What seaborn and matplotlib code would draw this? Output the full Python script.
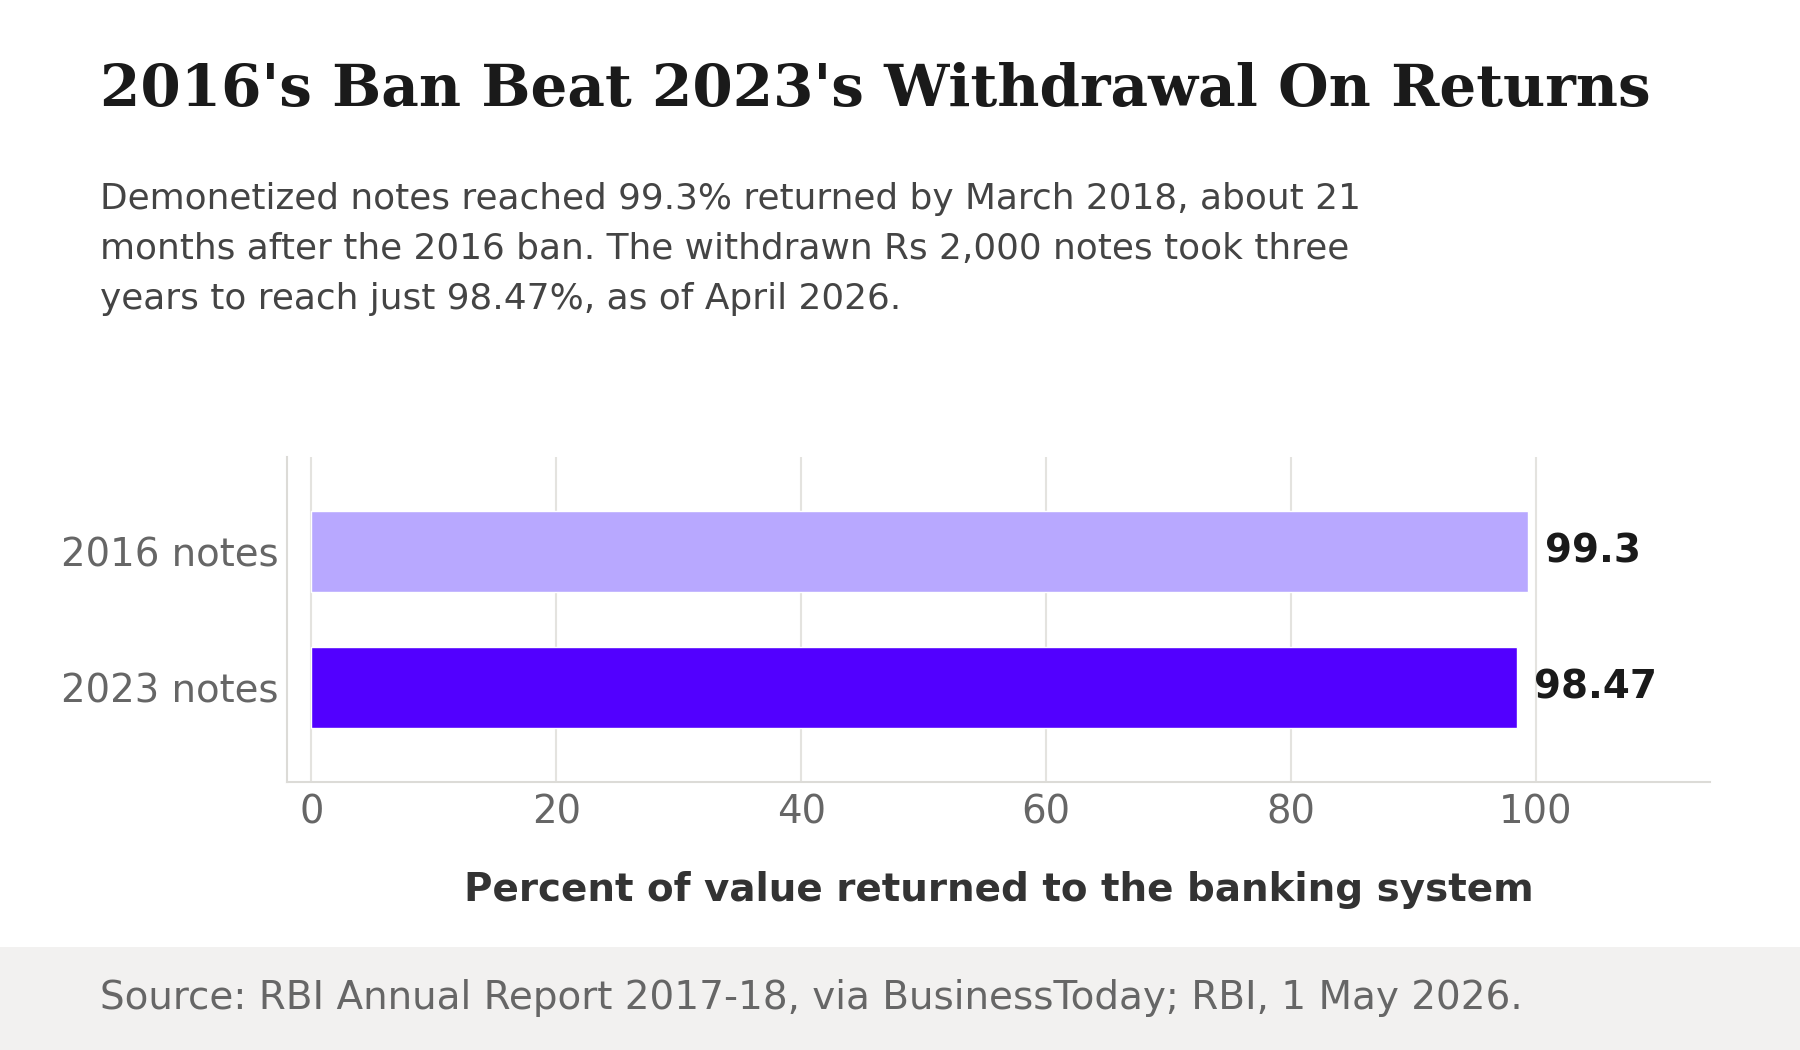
import matplotlib
matplotlib.use("Agg")
import matplotlib.pyplot as plt
import seaborn as sns
import pandas as pd

categories = ["2016 notes", "2023 notes"]
returned_pct = [99.3, 98.47]
value_labels = ["99.3", "98.47"]
bar_colors = ["#b8a8ff", "#5200ff"]
x_ticks = [0, 20, 40, 60, 80, 100]

title = "2016's Ban Beat 2023's Withdrawal On Returns"
subtitle = ("Demonetized notes reached 99.3% returned by March 2018, about 21\n"
            "months after the 2016 ban. The withdrawn Rs 2,000 notes took three\n"
            "years to reach just 98.47%, as of April 2026.")
x_label = "Percent of value returned to the banking system"
source = "Source: RBI Annual Report 2017-18, via BusinessToday; RBI, 1 May 2026."

sns.set_theme(style="white")
plt.rcParams["font.family"] = ["DejaVu Sans"]

W, H = 1800, 1050
fig = plt.figure(figsize=(18, 10.5), dpi=100)
fig.patch.set_facecolor("white")

# footer band
fig.patches.append(plt.Rectangle((0, 0), 1, (H - 947) / H, transform=fig.transFigure,
                                 facecolor="#f2f1f0", edgecolor="none", zorder=0))

ax = fig.add_axes([287 / W, 1 - 782 / H, (1710 - 287) / W, (782 - 457) / H])

df = pd.DataFrame({"cat": categories, "val": returned_pct})
sns.barplot(data=df, x="val", y="cat", hue="cat", palette=bar_colors, orient="h",
            width=0.6, legend=False, ax=ax, saturation=1, zorder=3)

ax.set_xlim(-2, 114.2)
ax.set_ylim(1.7, -0.7)
ax.set_xticks(x_ticks)
ax.grid(axis="x", color="#e4e3df", linewidth=1.5, zorder=0)
ax.grid(axis="y", visible=False)
for s in ["top", "right"]:
    ax.spines[s].set_visible(False)
for s in ["left", "bottom"]:
    ax.spines[s].set_color("#dcdbd7")
    ax.spines[s].set_linewidth(1.5)
ax.tick_params(axis="both", length=0, labelsize=27.8, labelcolor="#666666")
ax.tick_params(axis="x", pad=8)
ax.tick_params(axis="y", pad=6)
ax.set_ylabel("")
ax.set_xlabel(x_label, fontsize=28, fontweight="bold", color="#333333", labelpad=29)

for i, (v, lab) in enumerate(zip(returned_pct, value_labels)):
    ax.annotate(lab, (v, i), xytext=(17, 0), textcoords="offset pixels",
                ha="left", va="center", fontsize=28, fontweight="bold", color="#1a1a1a")

fig.text(100 / W, 1 - 106 / H, title, family="DejaVu Serif", fontweight="bold",
         fontsize=41.8, color="#1a1a1a", ha="left", va="baseline")
fig.text(100 / W, 1 - 182 / H, subtitle, fontsize=25.8, color="#444444", ha="left",
         va="top", linespacing=1.59)
fig.text(100 / W, 1 - 998 / H, source, fontsize=28, color="#666666", ha="left", va="center")

fig.savefig("out.png", dpi=100, facecolor=fig.get_facecolor())
